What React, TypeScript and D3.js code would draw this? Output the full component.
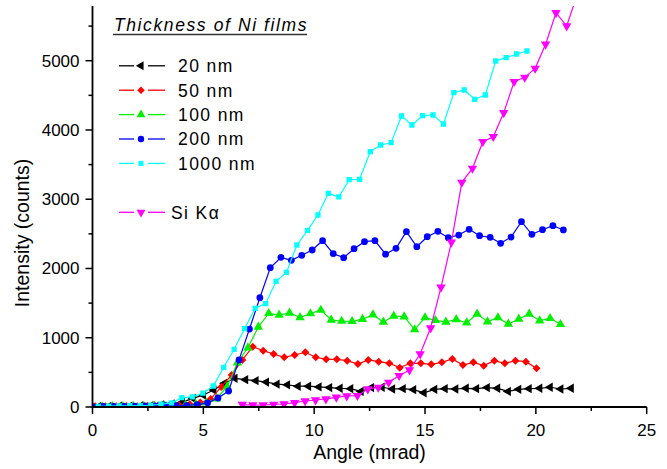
import React from 'react';
import * as d3 from 'd3';

const W = 667;
const H = 469;

// angles (mrad) and intensities (counts) per Ni film thickness
const angle20 = [0.26, 0.73, 1.21, 1.68, 2.16, 2.63, 3.10, 3.58, 4.05, 4.53, 5.00, 5.47, 5.95, 6.42, 6.90, 7.37, 7.84, 8.32, 8.79, 9.27, 9.74, 10.21, 10.69, 11.16, 11.64, 12.11, 12.58, 13.06, 13.53, 14.01, 14.48, 14.95, 15.43, 15.90, 16.38, 16.85, 17.32, 17.80, 18.27, 18.75, 19.22, 19.69, 20.17, 20.64, 21.12, 21.59];
const counts20 = [5, 8, 10, 12, 15, 20, 30, 45, 70, 125, 173, 245, 342, 414, 395, 380, 360, 330, 320, 300, 300, 290, 280, 270, 265, 225, 280, 285, 260, 265, 250, 205, 255, 265, 260, 270, 265, 280, 270, 225, 255, 265, 270, 285, 260, 270];

const angle50 = [0.12, 0.59, 1.07, 1.54, 2.02, 2.49, 2.96, 3.44, 3.91, 4.39, 4.86, 5.33, 5.81, 6.28, 6.76, 7.23, 7.70, 8.17, 8.65, 9.12, 9.60, 10.07, 10.54, 11.02, 11.49, 11.97, 12.44, 12.91, 13.39, 13.86, 14.34, 14.81, 15.28, 15.76, 16.23, 16.71, 17.18, 17.65, 18.13, 18.60, 19.08, 19.55, 20.03];
const counts50 = [10, 12, 10, 15, 12, 18, 20, 15, 25, 40, 65, 115, 290, 462, 679, 871, 813, 765, 718, 751, 790, 718, 689, 689, 669, 621, 679, 655, 631, 568, 631, 631, 616, 645, 693, 606, 645, 597, 669, 631, 669, 655, 559];

const angle100 = [0.43, 0.90, 1.37, 1.84, 2.31, 2.78, 3.25, 3.72, 4.19, 4.66, 5.13, 5.60, 6.07, 6.54, 7.01, 7.48, 7.95, 8.42, 8.89, 9.36, 9.83, 10.30, 10.77, 11.24, 11.71, 12.18, 12.65, 13.12, 13.59, 14.06, 14.53, 15.00, 15.47, 15.94, 16.41, 16.88, 17.35, 17.82, 18.29, 18.76, 19.23, 19.70, 20.17, 20.64, 21.11];
const counts100 = [5, 8, 10, 8, 12, 15, 15, 20, 25, 40, 60, 120, 293, 640, 856, 1155, 1353, 1328, 1358, 1293, 1348, 1400, 1256, 1240, 1237, 1268, 1333, 1228, 1314, 1304, 1117, 1290, 1251, 1228, 1263, 1217, 1343, 1232, 1290, 1198, 1271, 1343, 1246, 1280, 1194];

const angle200 = [0.00, 0.47, 0.94, 1.42, 1.89, 2.36, 2.83, 3.30, 3.78, 4.25, 4.72, 5.19, 5.66, 6.14, 6.61, 7.08, 7.55, 8.02, 8.50, 8.97, 9.44, 9.91, 10.38, 10.86, 11.33, 11.80, 12.27, 12.74, 13.22, 13.69, 14.16, 14.63, 15.10, 15.58, 16.05, 16.52, 16.99, 17.46, 17.94, 18.41, 18.88, 19.35, 19.82, 20.30, 20.77, 21.24];
const counts200 = [5, 8, 10, 10, 12, 15, 15, 20, 20, 25, 35, 60, 130, 231, 680, 1126, 1578, 2011, 2161, 2118, 2190, 2267, 2401, 2214, 2156, 2286, 2387, 2401, 2206, 2291, 2531, 2314, 2459, 2536, 2445, 2483, 2566, 2473, 2450, 2363, 2454, 2676, 2493, 2560, 2618, 2556];

const angle1000 = [0.26, 0.73, 1.20, 1.68, 2.15, 2.62, 3.09, 3.56, 4.03, 4.50, 4.98, 5.45, 5.92, 6.39, 6.86, 7.34, 7.81, 8.28, 8.75, 9.22, 9.70, 10.17, 10.64, 11.11, 11.58, 12.05, 12.53, 13.00, 13.47, 13.94, 14.41, 14.89, 15.36, 15.83, 16.30, 16.77, 17.24, 17.72, 18.19, 18.66, 19.13, 19.60];
const counts1000 = [10, 12, 15, 18, 20, 25, 40, 60, 134, 145, 200, 303, 573, 833, 1131, 1425, 1492, 1815, 1944, 2339, 2550, 2772, 3085, 3033, 3283, 3288, 3686, 3783, 3816, 4202, 4072, 4206, 4216, 4086, 4538, 4577, 4443, 4505, 4996, 5044, 5097, 5140];

// Si K-alpha fluorescence
const angleSi = [6.76, 7.23, 7.70, 8.17, 8.64, 9.12, 9.59, 10.06, 10.53, 11.00, 11.47, 11.95, 12.42, 12.89, 13.36, 13.83, 14.30, 14.78, 15.25, 15.72, 16.19, 16.66, 17.14, 17.61, 18.08, 18.55, 19.02, 19.50, 19.97, 20.44, 20.91, 21.39, 21.86];
const countsSi = [35, 28, 29, 38, 43, 62, 87, 101, 116, 140, 159, 164, 260, 284, 356, 452, 534, 765, 1140, 1728, 2378, 3244, 3446, 3831, 3903, 4249, 4697, 4760, 4890, 5237, 5693, 5501, 5950];

const xTicks = [0, 5, 10, 15, 20, 25];
const xMinor = [2.5, 7.5, 12.5, 17.5, 22.5];
const yTicks = [0, 1000, 2000, 3000, 4000, 5000];
const yMinor = [500, 1500, 2500, 3500, 4500, 5500];

const FONT = '"Liberation Sans", Arial, sans-serif';

const series = [
  { label: '20 nm', angles: angle20, counts: counts20, color: '#000000', symbol: d3.symbolTriangle, size: 38, rot: -90 },
  { label: '50 nm', angles: angle50, counts: counts50, color: '#ff0000', symbol: d3.symbolSquare, size: 32, rot: 45 },
  { label: '100 nm', angles: angle100, counts: counts100, color: '#00f000', symbol: d3.symbolTriangle, size: 38, rot: 0 },
  { label: '200 nm', angles: angle200, counts: counts200, color: '#0000ff', symbol: d3.symbolCircle, size: 36, rot: 0 },
  { label: '1000 nm', angles: angle1000, counts: counts1000, color: '#00ffff', symbol: d3.symbolSquare, size: 28, rot: 0 },
];
const siSeries = { label: 'Si Kα', angles: angleSi, counts: countsSi, color: '#ff00ff', symbol: d3.symbolTriangle, size: 38, rot: 180 };

export default function App() {
  const x = d3.scaleLinear().domain([0, 25]).range([92.5, 646.7]);
  const y = d3.scaleLinear().domain([0, 5790]).range([407, 6]);

  const line = d3.line<[number, number]>().x(d => x(d[0])).y(d => y(d[1]));
  const all = [...series, siSeries];

  const drawSeries = (s: typeof siSeries) => {
    const pts: [number, number][] = s.angles.map((a, i) => [a, s.counts[i]]);
    const sym = d3.symbol(s.symbol, s.size)();
    return (
      <g key={s.label}>
        <path d={line(pts) || ''} fill="none" stroke={s.color} strokeWidth={1.2} />
        {pts.map((p, i) => (
          <path key={i} d={sym || ''} fill={s.color}
            transform={`translate(${x(p[0])},${y(p[1])}) rotate(${s.rot})`} />
        ))}
      </g>
    );
  };

  const legendRow = (s: typeof siSeries, cy: number, textX: number) => {
    const sym = d3.symbol(s.symbol, s.size * 0.9)();
    return (
      <g key={'lg' + s.label}>
        <line x1={119} x2={134} y1={cy} y2={cy} stroke={s.color} strokeWidth={1.3} />
        <line x1={148} x2={165} y1={cy} y2={cy} stroke={s.color} strokeWidth={1.3} />
        <path d={sym || ''} fill={s.color} transform={`translate(141,${cy}) rotate(${s.rot})`} />
        <text x={textX} y={cy + 6.3} fontSize={17.5} letterSpacing={1.4} fill="#000">{s.label}</text>
      </g>
    );
  };

  return (
    <svg width={W} height={H} style={{ position: 'absolute', left: 0, top: 0, background: '#fff' }} fontFamily={FONT}>
      <defs>
        <clipPath id="plot">
          <rect x={92.5} y={6} width={554.2} height={401} />
        </clipPath>
      </defs>

      <g clipPath="url(#plot)">
        {all.map(s => drawSeries(s))}
      </g>

      {/* axes */}
      <line x1={x(0)} x2={x(25)} y1={407} y2={407} stroke="#000" strokeWidth={1.8} />
      <line x1={92.5} x2={92.5} y1={6} y2={407.9} stroke="#000" strokeWidth={1.8} />
      {xTicks.map(t => (
        <g key={'xt' + t}>
          <line x1={x(t)} x2={x(t)} y1={407} y2={414} stroke="#000" strokeWidth={1.5} />
          <text x={x(t)} y={436} fontSize={17} textAnchor="middle">{t}</text>
        </g>
      ))}
      {xMinor.map(t => (
        <line key={'xm' + t} x1={x(t)} x2={x(t)} y1={407} y2={411} stroke="#000" strokeWidth={1.5} />
      ))}
      {yTicks.map(t => (
        <g key={'yt' + t}>
          <line x1={85.5} x2={92.5} y1={y(t)} y2={y(t)} stroke="#000" strokeWidth={1.5} />
          <text x={79.5} y={y(t) + 6} fontSize={17} textAnchor="end">{t}</text>
        </g>
      ))}
      {yMinor.map(t => (
        <line key={'ym' + t} x1={88.5} x2={92.5} y1={y(t)} y2={y(t)} stroke="#000" strokeWidth={1.5} />
      ))}

      <text x={369.5} y={459} fontSize={19.5} textAnchor="middle">Angle (mrad)</text>
      <text transform="translate(29,233) rotate(-90)" fontSize={19.5} textAnchor="middle">Intensity (counts)</text>

      {/* legend */}
      <text x={114} y={31} fontSize={17.5} fontStyle="italic" letterSpacing={1.6}>Thickness of Ni films</text>
      <line x1={113} x2={307} y1={34.5} y2={34.5} stroke="#333" strokeWidth={1.5} />
      {series.map((s, i) => legendRow(s, 65.8 + i * 24.4, 178))}
      {legendRow(siSeries, 212.3, 171)}
    </svg>
  );
}
